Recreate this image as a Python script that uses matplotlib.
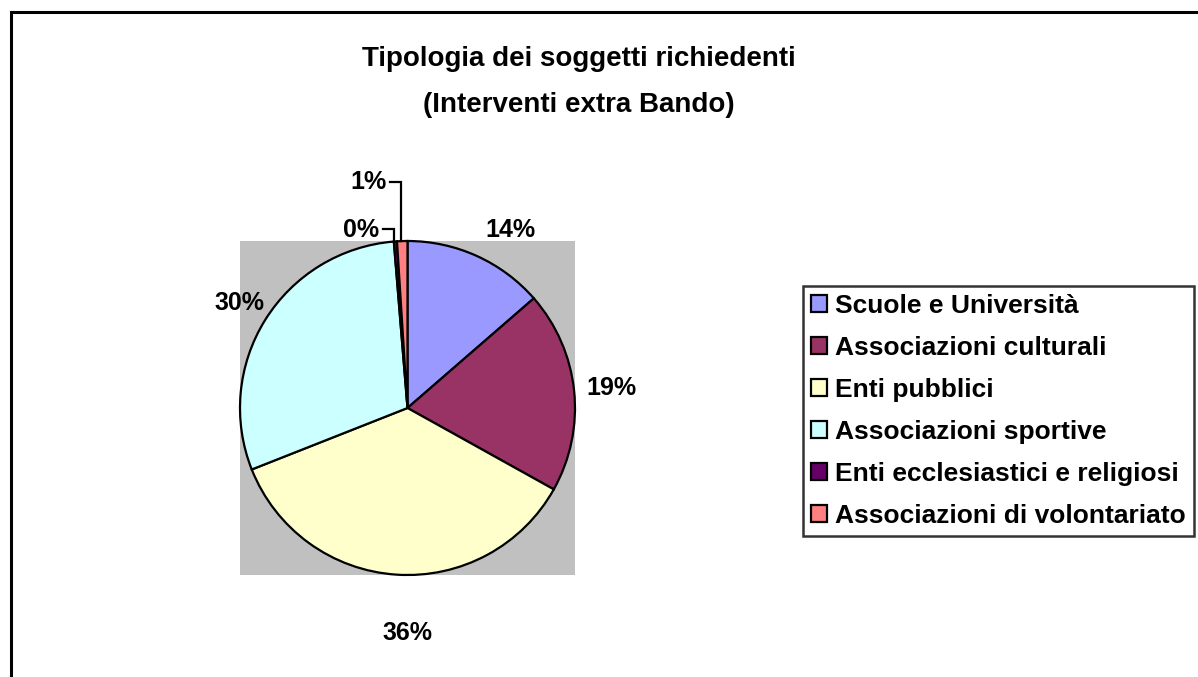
import numpy as np
import matplotlib
matplotlib.use("Agg")
import matplotlib.pyplot as plt
from matplotlib.patches import Rectangle

categories = ["Scuole e Università", "Associazioni culturali", "Enti pubblici",
              "Associazioni sportive", "Enti ecclesiastici e religiosi",
              "Associazioni di volontariato"]
values = [13.6, 19.5, 35.9, 29.7, 0.3, 1.0]
pct_labels = ["14%", "19%", "36%", "30%", "0%", "1%"]
colors = ["#9999FF", "#993366", "#FFFFCC", "#CCFFFF", "#660066", "#FF8080"]
title = "Tipologia dei soggetti richiedenti\n(Interventi extra Bando)"

plt.rcParams['font.family'] = ['Liberation Sans', 'DejaVu Sans']

W, H = 1198, 677
fig = plt.figure(figsize=(W / 100, H / 100), dpi=100)

# outer chart border
fig.patches.append(Rectangle((10.5 / W, -0.01), 1.02, (H - 11.5) / H + 0.01,
                             transform=fig.transFigure, fill=False,
                             edgecolor="black", linewidth=2.2))

ax = fig.add_axes([240 / W, (H - 575) / H, 335 / W, 334 / H])
wedges, _ = ax.pie(values, colors=colors, startangle=90, counterclock=False,
                   wedgeprops=dict(edgecolor="black", linewidth=1.6))
ax.set_frame_on(True)
ax.set_facecolor("#C0C0C0")
ax.set_xlim(-1, 1)
ax.set_ylim(-1, 1)
ax.set_aspect("auto")
for s in ax.spines.values():
    s.set_visible(False)
ax.set_xticks([])
ax.set_yticks([])

# label layout (data coords of text centres)
label_pos = [(0.617, 1.066), (1.216, 0.12), (0.0, -1.347), (-1.006, 0.629),
             (-0.275, 1.066), (-0.234, 1.353)]
# leader lines for the tiny slices: (slice index, start x, elbow x, y)
leaders = [(4, -0.144, -0.078, 1.072), (5, -0.102, -0.038, 1.353)]

for lab, (lx, ly) in zip(pct_labels, label_pos):
    ax.text(lx, ly, lab, ha="center", va="center", fontsize=18,
            fontweight="bold", clip_on=False)

for idx, sx, ex, ey in leaders:
    w = wedges[idx]
    ang = np.deg2rad((w.theta1 + w.theta2) / 2)
    py = np.sin(ang)
    ax.plot([sx, ex, ex], [ey, ey, py], color="black", lw=1.6,
            clip_on=False, solid_joinstyle="miter")

fig.text(579 / W, 1 - 82 / H, title, ha="center", va="center", fontsize=20,
         fontweight="bold", linespacing=1.95)

leg = fig.legend(wedges, categories, loc="upper left",
                 bbox_to_anchor=(803 / W, 1 - 286 / H),
                 prop=dict(size=19, weight="bold"), frameon=True,
                 fancybox=False, edgecolor="black", borderpad=0.3,
                 handlelength=0.62, handleheight=0.62, handletextpad=0.3,
                 labelspacing=0.68, borderaxespad=0)
leg.get_frame().set_linewidth(1.8)

fig.savefig("out.png", dpi=100)
